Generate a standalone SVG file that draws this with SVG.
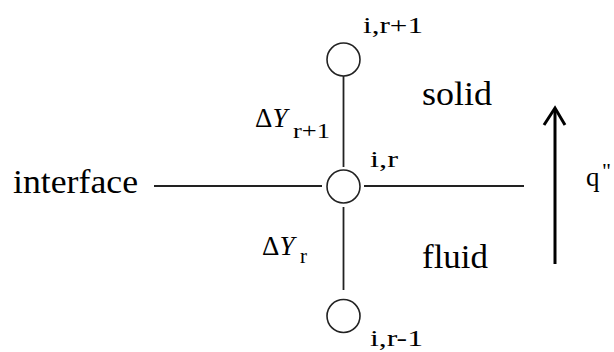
<svg xmlns="http://www.w3.org/2000/svg" width="614" height="352" viewBox="0 0 614 352">
<style>
text{font-family:"Liberation Serif","Times New Roman",Times,serif;fill:#000}
.big{font-size:34px}
.sm{font-size:24px}
.sub{font-size:21px}
.dy{font-size:27px}
.node{fill:#fff;stroke:#222;stroke-width:1.6}
.ln{stroke:#222;stroke-width:1.8;fill:none}
</style>
<rect width="614" height="352" fill="#fff"/>
<g id="connectors">
<line class="ln" x1="343.5" y1="76" x2="343.5" y2="167"/>
<line class="ln" x1="343.5" y1="207" x2="343.5" y2="290"/>
<line class="ln" x1="154" y1="186" x2="322" y2="186"/>
<line class="ln" x1="364" y1="186" x2="524" y2="186"/>
<g id="flux-arrow">
<line x1="555" y1="110" x2="555" y2="264" stroke="#000" stroke-width="3"/>
<polyline points="544,125 555,108 565,125" fill="none" stroke="#000" stroke-width="3" stroke-linejoin="miter"/>
</g>
</g>
<g id="node-top">
<circle class="node" cx="343.5" cy="59.5" r="16.5"/>
<text class="sm" x="363" y="33" textLength="60" lengthAdjust="spacingAndGlyphs">i,r+1</text>
</g>
<g id="node-mid">
<circle class="node" cx="343.5" cy="186.5" r="16.5"/>
<text class="sm" x="370" y="167" textLength="28" lengthAdjust="spacingAndGlyphs">i,r</text>
</g>
<g id="node-bot">
<circle class="node" cx="343.5" cy="316" r="16.5"/>
<text class="sm" x="370" y="346" textLength="53" lengthAdjust="spacingAndGlyphs">i,r-1</text>
</g>
<g id="labels">
<text class="big" x="13" y="193" textLength="125" lengthAdjust="spacingAndGlyphs">interface</text>
<text class="big" x="422" y="105" textLength="70" lengthAdjust="spacingAndGlyphs">solid</text>
<text class="big" x="422" y="268" textLength="66" lengthAdjust="spacingAndGlyphs">fluid</text>
<text class="dy" x="255" y="127">Δ<tspan font-style="italic">Y</tspan></text>
<text class="sub" x="293" y="138" textLength="37" lengthAdjust="spacingAndGlyphs">r+1</text>
<text class="dy" x="262" y="255">Δ<tspan font-style="italic">Y</tspan></text>
<text class="sub" x="300" y="263">r</text>
<text style="font-size:27px" x="586" y="186">q</text>
<text style="font-size:22px" x="602" y="178">"</text>
</g>
</svg>
